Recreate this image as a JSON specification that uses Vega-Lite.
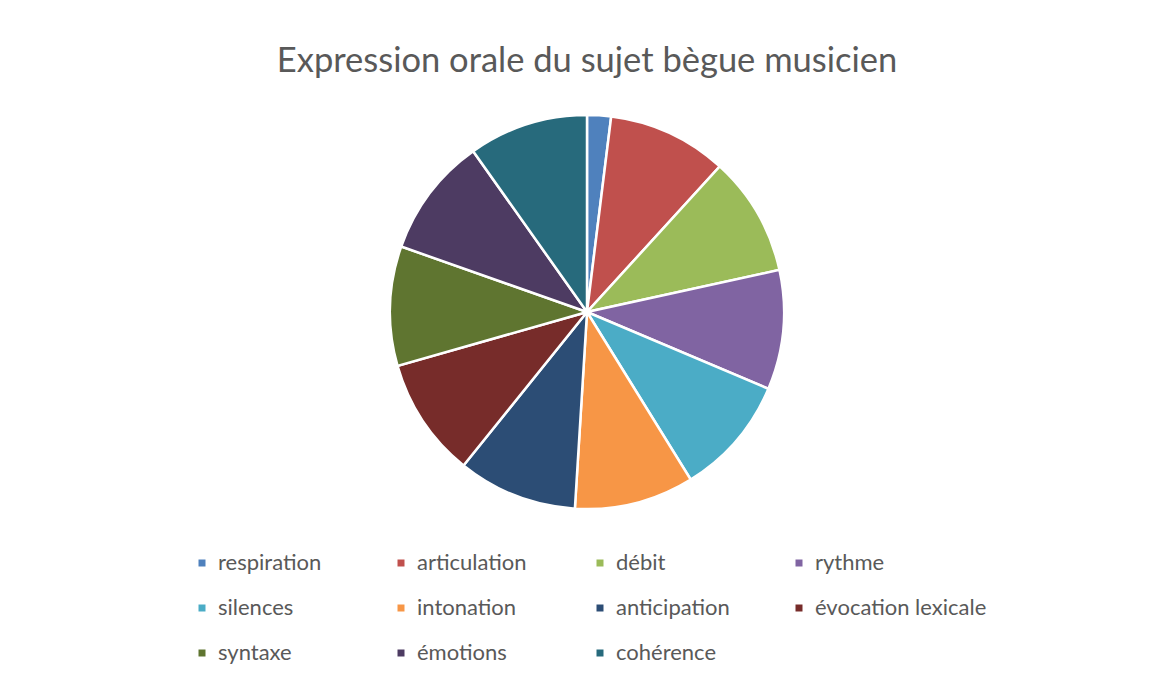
{
  "$schema": "https://vega.github.io/schema/vega-lite/v6.json",
  "width": 1126,
  "height": 424,
  "autosize": {"type": "none"},
  "padding": {"left": 24, "top": 100, "right": 0, "bottom": 153},
  "background": "white",
  "title": {
    "text": "Expression orale du sujet bègue musicien",
    "font": "Lato",
    "fontSize": 34.5,
    "fontWeight": "normal",
    "color": "#595959",
    "anchor": "middle",
    "offset": 21
  },
  "data": {
    "values": [
      {"rang": 1, "critere": "respiration", "valeur": 2},
      {"rang": 2, "critere": "articulation", "valeur": 10},
      {"rang": 3, "critere": "débit", "valeur": 10},
      {"rang": 4, "critere": "rythme", "valeur": 10},
      {"rang": 5, "critere": "silences", "valeur": 10},
      {"rang": 6, "critere": "intonation", "valeur": 10},
      {"rang": 7, "critere": "anticipation", "valeur": 10},
      {"rang": 8, "critere": "évocation lexicale", "valeur": 10},
      {"rang": 9, "critere": "syntaxe", "valeur": 10},
      {"rang": 10, "critere": "émotions", "valeur": 10},
      {"rang": 11, "critere": "cohérence", "valeur": 10}
    ]
  },
  "mark": {"type": "arc", "outerRadius": 197, "stroke": "white", "strokeWidth": 2.5},
  "encoding": {
    "theta": {"field": "valeur", "type": "quantitative", "stack": true},
    "order": {"field": "rang", "type": "quantitative"},
    "color": {
      "field": "critere",
      "type": "nominal",
      "sort": ["respiration", "articulation", "débit", "rythme", "silences", "intonation", "anticipation", "évocation lexicale", "syntaxe", "émotions", "cohérence"],
      "scale": {
        "domain": ["respiration", "articulation", "débit", "rythme", "silences", "intonation", "anticipation", "évocation lexicale", "syntaxe", "émotions", "cohérence"],
        "range": ["#4F81BD", "#C0504D", "#9BBB59", "#8064A2", "#4BACC6", "#F79646", "#2C4D75", "#772C2A", "#5F7530", "#4D3B62", "#276A7C"]
      },
      "legend": {
        "title": null,
        "orient": "none",
        "legendX": 167,
        "legendY": 452,
        "direction": "horizontal",
        "columns": 4,
        "gridAlign": "all",
        "columnPadding": 0,
        "rowPadding": 23,
        "symbolType": "square",
        "symbolSize": 49,
        "symbolStrokeWidth": 0,
        "labelFont": "Lato",
        "labelFontSize": 22,
        "labelColor": "#595959",
        "labelOffset": 5,
        "labelLimit": 300,
        "padding": 0
      }
    }
  },
  "config": {"view": {"stroke": null}}
}
